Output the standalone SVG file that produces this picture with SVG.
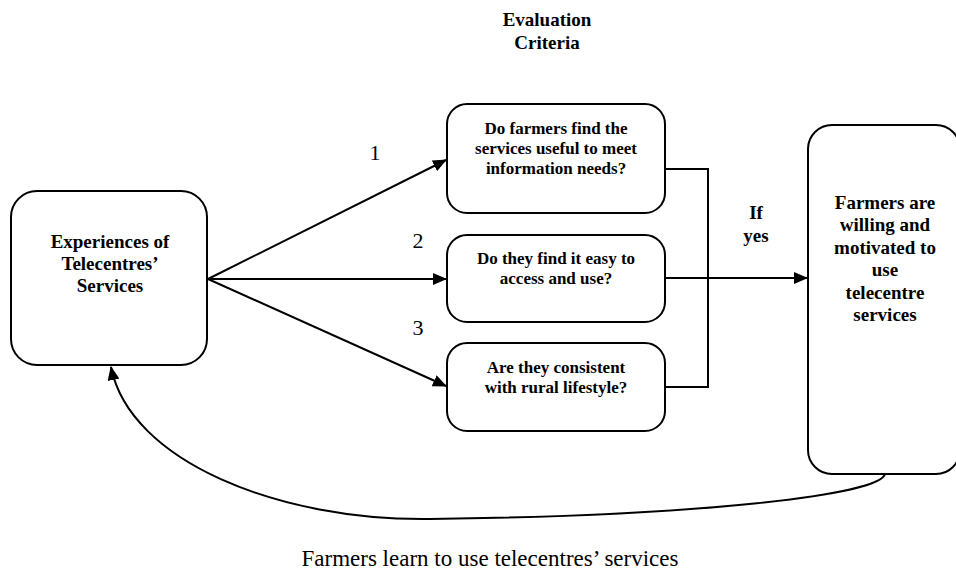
<svg xmlns="http://www.w3.org/2000/svg" width="956" height="573" viewBox="0 0 956 573">
<style>
.box{fill:#fff;stroke:#000;stroke-width:2}
.t{font-family:"Liberation Serif","Times New Roman",serif;font-weight:bold;text-anchor:middle;fill:#000}
.s17{font-size:17px}
.s19{font-size:19px}
.n{font-family:"Liberation Serif","Times New Roman",serif;font-size:22px;text-anchor:middle;fill:#000}
.cap{font-family:"Liberation Serif","Times New Roman",serif;font-size:23px;text-anchor:middle;fill:#000}
.ln{fill:none;stroke:#000;stroke-width:2}
</style>
<defs>
<marker id="ah" markerWidth="14" markerHeight="12" refX="13" refY="6" orient="auto" markerUnits="userSpaceOnUse">
<path d="M0,0 L14,6 L0,12 Z" fill="#000"/>
</marker>
</defs>
<rect width="956" height="573" fill="#fff"/>
<g id="title">
<text class="t s19" x="547" y="26">Evaluation</text>
<text class="t s19" x="547" y="49">Criteria</text>
</g>
<g id="experiences">
<rect class="box" x="11" y="191" width="196" height="174" rx="26"/>
<text class="t s19" x="110" y="248">Experiences of</text>
<text class="t s19" x="110" y="270">Telecentres’</text>
<text class="t s19" x="110" y="292">Services</text>
</g>
<g id="useful">
<rect class="box" x="447" y="104" width="218" height="109" rx="20"/>
<text class="t s17" x="556" y="134">Do farmers find the</text>
<text class="t s17" x="556" y="154">services useful to meet</text>
<text class="t s17" x="556" y="174">information needs?</text>
</g>
<g id="easy">
<rect class="box" x="447" y="235" width="218" height="87" rx="20"/>
<text class="t s17" x="556" y="264">Do they find it easy to</text>
<text class="t s17" x="556" y="284">access and use?</text>
</g>
<g id="consistent">
<rect class="box" x="447" y="343" width="218" height="88" rx="20"/>
<text class="t s17" x="556" y="373">Are they consistent</text>
<text class="t s17" x="556" y="393">with rural lifestyle?</text>
</g>
<g id="willing">
<rect class="box" x="808" y="125" width="152" height="349" rx="24"/>
<text class="t s19" x="885" y="209">Farmers are</text>
<text class="t s19" x="885" y="231">willing and</text>
<text class="t s19" x="885" y="254">motivated to</text>
<text class="t s19" x="885" y="276">use</text>
<text class="t s19" x="885" y="299">telecentre</text>
<text class="t s19" x="885" y="321">services</text>
</g>
<g id="connectors">
<line class="ln" x1="208" y1="279" x2="446" y2="160" marker-end="url(#ah)"/>
<line class="ln" x1="208" y1="279" x2="446" y2="279" marker-end="url(#ah)"/>
<line class="ln" x1="208" y1="279" x2="446" y2="386" marker-end="url(#ah)"/>
<polyline class="ln" points="665,169 708,169 708,387 665,387"/>
<line class="ln" x1="665" y1="278" x2="807" y2="278" marker-end="url(#ah)"/>
<path class="ln" d="M885,474 C880,495 700,516 430,519 C280,521 130,462 111,367" marker-end="url(#ah)"/>
</g>
<g id="labels">
<text class="n" x="375" y="160">1</text>
<text class="n" x="418" y="248">2</text>
<text class="n" x="418" y="335">3</text>
<text class="t s19" x="756" y="219">If</text>
<text class="t s19" x="756" y="242">yes</text>
<text class="cap" x="490" y="566">Farmers learn to use telecentres’ services</text>
</g>
</svg>
